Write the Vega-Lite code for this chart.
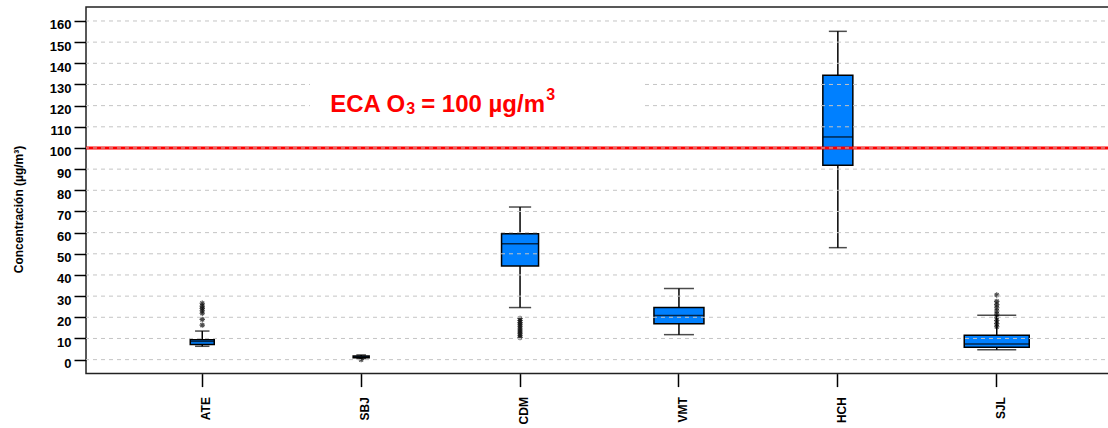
{
  "$schema": "https://vega.github.io/schema/vega-lite/v6.json",
  "autosize": "none",
  "padding": {"left": 86, "top": 7, "right": 0, "bottom": 55},
  "width": 1027,
  "height": 366.6,
  "background": "white",
  "config": {
    "view": {"stroke": "#222222", "strokeWidth": 1.5},
    "font": "Liberation Sans",
    "axisY": {
      "tickCount": 17, "labelOverlap": false, "labelFlush": false,
      "grid": false, "domain": false,
      "tickSize": 12, "tickWidth": 1.5, "tickColor": "#000000",
      "labelPadding": 3, "labelOffset": 4,
      "labelFont": "Liberation Sans", "labelFontWeight": "bold", "labelFontSize": 13, "labelColor": "#000000"
    }
  },
  "datasets": {
    "boxes": [
      {"station": "ATE", "low": 6.3, "q1": 7.2, "median": 8.6, "q3": 9.4, "high": 13.5, "n": 24},
      {"station": "SBJ", "low": 0.5, "q1": 0.9, "median": 1.3, "q3": 1.7, "high": 2.2, "n": 16},
      {"station": "CDM", "low": 24.6, "q1": 44.2, "median": 54.8, "q3": 59.5, "high": 72.1, "n": 37},
      {"station": "VMT", "low": 11.8, "q1": 17.0, "median": 20.9, "q3": 24.6, "high": 33.6, "n": 50},
      {"station": "HCH", "low": 52.9, "q1": 91.8, "median": 105.2, "q3": 134.4, "high": 155.1, "n": 30},
      {"station": "SJL", "low": 4.7, "q1": 5.8, "median": 7.4, "q3": 11.5, "high": 21.0, "n": 65}
    ],
    "outliers": [
      {"station": "ATE", "value": 16.3}, {"station": "ATE", "value": 19.0}, {"station": "ATE", "value": 21.9},
      {"station": "ATE", "value": 23.1}, {"station": "ATE", "value": 24.2}, {"station": "ATE", "value": 25.3},
      {"station": "ATE", "value": 26.6},
      {"station": "SBJ", "value": 0},
      {"station": "CDM", "value": 10.5}, {"station": "CDM", "value": 11.5}, {"station": "CDM", "value": 12.5},
      {"station": "CDM", "value": 13.5}, {"station": "CDM", "value": 14.5}, {"station": "CDM", "value": 15.5},
      {"station": "CDM", "value": 16.5}, {"station": "CDM", "value": 17.5}, {"station": "CDM", "value": 18.5},
      {"station": "CDM", "value": 19.4},
      {"station": "SJL", "value": 15.5}, {"station": "SJL", "value": 17.0}, {"station": "SJL", "value": 18.5},
      {"station": "SJL", "value": 20.0}, {"station": "SJL", "value": 21.5}, {"station": "SJL", "value": 23.0},
      {"station": "SJL", "value": 24.5}, {"station": "SJL", "value": 26.0}, {"station": "SJL", "value": 27.5},
      {"station": "SJL", "value": 30.5}
    ],
    "grid": [
      {"v": 0}, {"v": 10}, {"v": 20}, {"v": 30}, {"v": 40}, {"v": 50}, {"v": 60}, {"v": 70}, {"v": 80},
      {"v": 90}, {"v": 100}, {"v": 110}, {"v": 120}, {"v": 130}, {"v": 140}, {"v": 150}, {"v": 160}
    ],
    "note": [{"station": "SBJ", "y": 115, "y0": 113, "y1": 136, "xend": "VMT", "a": "ECA O", "b": "3", "c": "= 100 µg/m", "d": "3"}]
  },
  "encoding": {
    "x": {
      "field": "station",
      "type": "nominal",
      "sort": ["ATE", "SBJ", "CDM", "VMT", "HCH", "SJL"],
      "scale": {"type": "band", "domain": ["ATE", "SBJ", "CDM", "VMT", "HCH", "SJL"], "paddingInner": 0, "paddingOuter": 0.2316},
      "axis": {
        "title": null, "domain": false, "grid": false,
        "tickSize": 13, "tickWidth": 1.5, "tickColor": "#000000",
        "labelAngle": 270, "labelPadding": 10, "labelOffset": 4,
        "labelFont": "Liberation Sans", "labelFontWeight": "bold", "labelFontSize": 12, "labelColor": "#000000"
      }
    }
  },
  "layer": [
    {
      "data": {"name": "boxes"},
      "mark": {"type": "rule", "color": "#000000", "strokeWidth": 1.5},
      "encoding": {
        "y": {
          "field": "low", "type": "quantitative",
          "scale": {"domain": [-6.6, 166.6], "nice": false, "zero": false},
          "axis": {
            "values": [0, 10, 20, 30, 40, 50, 60, 70, 80, 90, 100, 110, 120, 130, 140, 150, 160],
            "labelOverlap": false,
            "title": "Concentración (µg/m³)",
            "titleFont": "Liberation Sans", "titleFontWeight": "bold", "titleFontSize": 12, "titleColor": "#000000",
            "titleX": -68, "titleY": 202, "titleAngle": 270, "titleAlign": "center", "titleBaseline": "middle"
          }
        },
        "y2": {"field": "high"}
      }
    },
    {
      "data": {"name": "boxes"},
      "mark": {"type": "tick", "color": "#000000", "thickness": 1.5},
      "encoding": {
        "y": {"field": "high", "type": "quantitative"},
        "size": {"field": "n", "type": "quantitative", "scale": {"domain": [0, 65], "range": [0, 39]}, "legend": null}
      }
    },
    {
      "data": {"name": "boxes"},
      "mark": {"type": "tick", "color": "#000000", "thickness": 1.5},
      "encoding": {
        "y": {"field": "low", "type": "quantitative"},
        "size": {"field": "n", "type": "quantitative", "scale": {"domain": [0, 65], "range": [0, 39]}, "legend": null}
      }
    },
    {
      "data": {"name": "boxes"},
      "mark": {"type": "bar", "fill": "#0080ff", "stroke": "#000000", "strokeWidth": 1.5},
      "encoding": {
        "y": {"field": "q1", "type": "quantitative"},
        "y2": {"field": "q3"},
        "size": {"field": "n", "type": "quantitative", "scale": {"domain": [0, 65], "range": [0, 65]}, "legend": null}
      }
    },
    {
      "data": {"name": "boxes"},
      "mark": {"type": "tick", "color": "#000000", "thickness": 1.5},
      "encoding": {
        "y": {"field": "median", "type": "quantitative"},
        "size": {"field": "n", "type": "quantitative", "scale": {"domain": [0, 65], "range": [0, 65]}, "legend": null}
      }
    },
    {
      "data": {"name": "outliers"},
      "mark": {
        "type": "point", "filled": false, "stroke": "#000000", "strokeWidth": 1.1, "size": 30,
        "shape": "M-1,0L1,0M0,-1L0,1M-0.7,-0.7L0.7,0.7M-0.7,0.7L0.7,-0.7"
      },
      "encoding": {
        "y": {"field": "value", "type": "quantitative"}
      }
    },
    {
      "data": {"values": [{"limit": 100}]},
      "mark": {"type": "rule", "color": "#ff0000", "strokeWidth": 3},
      "encoding": {"y": {"field": "limit", "type": "quantitative"}, "x": null}
    },
    {
      "data": {"name": "grid"},
      "mark": {"type": "rule", "color": "#c4c4c4", "strokeWidth": 1, "strokeDash": [4, 4]},
      "encoding": {"y": {"field": "v", "type": "quantitative"}, "x": null}
    },
    {
      "data": {"name": "note"},
      "mark": {"type": "rect", "fill": "white"},
      "encoding": {
        "x": {"field": "station", "type": "nominal", "bandPosition": 0.178},
        "x2": {"field": "xend", "bandPosition": 0.286},
        "y": {"field": "y0", "type": "quantitative"},
        "y2": {"field": "y1"}
      }
    },
    {
      "data": {"name": "note"},
      "mark": {"type": "text", "color": "#ff0000", "font": "Liberation Sans", "fontWeight": "bold", "fontSize": 24, "align": "left", "baseline": "alphabetic", "dx": -31, "dy": -4},
      "encoding": {"y": {"field": "y", "type": "quantitative"}, "text": {"field": "a"}}
    },
    {
      "data": {"name": "note"},
      "mark": {"type": "text", "color": "#ff0000", "font": "Liberation Sans", "fontWeight": "bold", "fontSize": 16, "align": "left", "baseline": "alphabetic", "dx": 45, "dy": -2},
      "encoding": {"y": {"field": "y", "type": "quantitative"}, "text": {"field": "b"}}
    },
    {
      "data": {"name": "note"},
      "mark": {"type": "text", "color": "#ff0000", "font": "Liberation Sans", "fontWeight": "bold", "fontSize": 24, "align": "left", "baseline": "alphabetic", "dx": 60, "dy": -4},
      "encoding": {"y": {"field": "y", "type": "quantitative"}, "text": {"field": "c"}}
    },
    {
      "data": {"name": "note"},
      "mark": {"type": "text", "color": "#ff0000", "font": "Liberation Sans", "fontWeight": "bold", "fontSize": 16, "align": "left", "baseline": "alphabetic", "dx": 185, "dy": -16},
      "encoding": {"y": {"field": "y", "type": "quantitative"}, "text": {"field": "d"}}
    }
  ],
  "resolve": {"scale": {"size": "independent"}}
}
